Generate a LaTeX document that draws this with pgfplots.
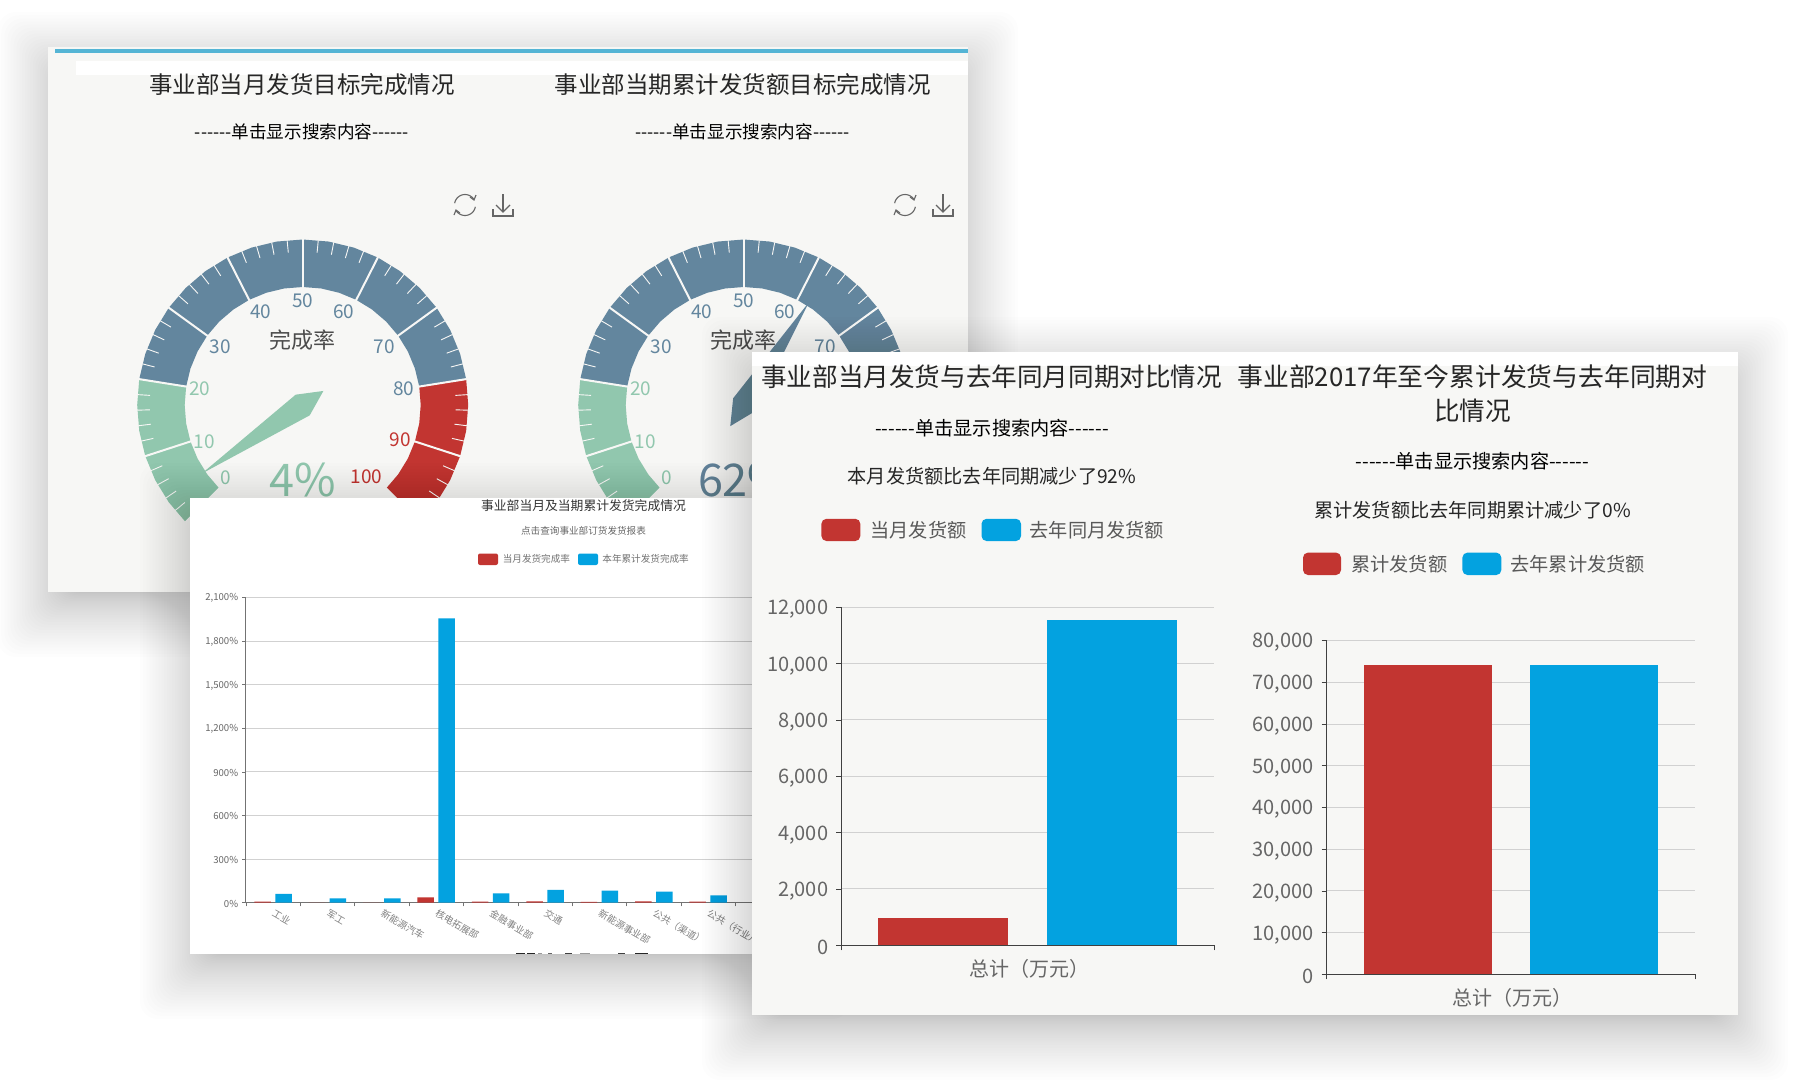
\documentclass[border=0pt]{standalone}
\usepackage{fontspec}
\setmainfont{Noto Sans CJK SC}
\usepackage{pgfplots}
\pgfplotsset{compat=1.18}
\definecolor{pbg}{HTML}{F7F7F5}
\definecolor{gG}{HTML}{91C7AE}
\definecolor{gB}{HTML}{63869E}
\definecolor{gR}{HTML}{C23531}
\definecolor{bR}{HTML}{C23531}
\definecolor{bB}{HTML}{03A2E0}
\definecolor{topb}{HTML}{55B5D5}
\definecolor{tk}{HTML}{666666}
\newcommand\fs[1]{\fontsize{#1}{#1}\selectfont}
\newcommand\dd{-{}-{}-{}-{}-{}-}
% soft shadow in pixel coordinates
\newcommand\softshadow[5]{%
  \foreach \i in {0,...,29}{%
    \pgfmathsetmacro\e{-15+65*((30-\i)/30)^1.5}%
    \fill[black,opacity=.0065,rounded corners=9pt]
      ({#1-\e},{#2+#5-\e}) rectangle ({#3+\e},{#4+#5+\e});
  }}
\newcommand\glabel[4]{%
  \edef\t{\noexpand\node[text=#2,font=\noexpand\fs{9.5}] at (axis cs:#3,#4) {#1};}\t}
% gauge bands, angle / radius in px
\newcommand\gaugebody{%
  \addplot[fill=gG,draw=none,data cs=polar,forget plot] coordinates {
   (225,165.5)(216,165.5)(207,165.5)(198,165.5)(189,165.5)(180,165.5)(171,165.5)
   (171,118)(180,118)(189,118)(198,118)(207,118)(216,118)(225,118)} -- cycle;
  \addplot[fill=gB,draw=none,data cs=polar,forget plot] coordinates {
   (171,165.5)(162,165.5)(153,165.5)(144,165.5)(135,165.5)(126,165.5)(117,165.5)(108,165.5)(99,165.5)(90,165.5)(81,165.5)(72,165.5)(63,165.5)(54,165.5)(45,165.5)(36,165.5)(27,165.5)(18,165.5)(9,165.5)
   (9,118)(18,118)(27,118)(36,118)(45,118)(54,118)(63,118)(72,118)(81,118)(90,118)(99,118)(108,118)(117,118)(126,118)(135,118)(144,118)(153,118)(162,118)(171,118)} -- cycle;
  \addplot[fill=gR,draw=none,data cs=polar,forget plot] coordinates {
   (9,165.5)(0,165.5)(-9,165.5)(-18,165.5)(-27,165.5)(-36,165.5)(-45,165.5)
   (-45,118)(-36,118)(-27,118)(-18,118)(-9,118)(0,118)(9,118)} -- cycle;
  \pgfplotsforeachungrouped \v in {0,2,...,100}{%
    \pgfmathsetmacro\a{225-2.7*\v}%
    \edef\t{\noexpand\addplot[draw=pbg,line width=.45pt,data cs=polar,forget plot] coordinates {(\a,153)(\a,165.5)};}\t}
  \pgfplotsforeachungrouped \v in {0,10,...,100}{%
    \pgfmathsetmacro\a{225-2.7*\v}%
    \edef\t{\noexpand\addplot[draw=pbg,line width=1pt,data cs=polar,forget plot] coordinates {(\a,117)(\a,166)};}\t}
  \glabel{0}{gG}{-76.7}{-73.2}\glabel{10}{gG}{-98.6}{-36.3}\glabel{20}{gG}{-103}{16.7}
  \glabel{30}{gB}{-82.4}{58.2}\glabel{40}{gB}{-42}{92.8}\glabel{50}{gB}{0}{104.3}
  \glabel{60}{gB}{41}{92.8}\glabel{70}{gB}{81.3}{58.2}\glabel{80}{gB}{100.9}{16.7}
  \glabel{90}{gR}{97.4}{-35}\glabel{100}{gR}{64}{-72}
  \node[text=black!70,font=\fs{11}] at (axis cs:0,65) {完成率};
}
\newcommand\icons[2]{%
  \draw[tk,line width=.55pt] plot[domain=35:170,samples=16] ({#1+10.5*cos(\x)},{#2-10.5*sin(\x)});
  \draw[tk,line width=.55pt] plot[domain=215:350,samples=16] ({#1+10.5*cos(\x)},{#2-10.5*sin(\x)});
  \draw[tk,line width=.55pt] ({#1+5},{#2-8})--({#1+9},{#2-5})--({#1+11},{#2-10});
  \draw[tk,line width=.55pt] ({#1-5},{#2+8})--({#1-9},{#2+5})--({#1-11},{#2+10});
  \draw[tk,line width=.55pt] ({#1+38},{#2-11})--({#1+38},{#2+7});
  \draw[tk,line width=.55pt] ({#1+31},{#2})--({#1+38},{#2+7})--({#1+45},{#2});
  \draw[tk,line width=.55pt] ({#1+28},{#2+4})--({#1+28},{#2+11})--({#1+48},{#2+11})--({#1+48},{#2+4});
}
\newcommand\lkey[6]{\fill[#5,rounded corners=#6] (#1,#2) rectangle (#3,#4);}
\pgfplotsset{mybar/.style={scale only axis,axis x line*=bottom,axis y line*=left,
    axis line style={draw=black!75,-},tick style={draw=black!75,line width=.4pt},
    tick align=outside,major tick length=2.5pt,ymajorgrids,grid style={draw=black!18,line width=.5pt},
    /pgf/number format/assume math mode=true,/pgf/number format/1000 sep={,},
    ticklabel style={font=\fs{10},text=tk},yticklabel style={yshift=-1pt,xshift=-.5pt},xmin=0,xmax=1,ymin=0,
    xtick={0,1},xticklabels={},scaled y ticks=false,
    extra x ticks={0.5},extra x tick labels={总计（万元）},
    extra x tick style={major tick length=0pt,grid=none,xticklabel style={yshift=-3.5pt,xshift=.7pt}}}}
\begin{document}
\begin{tikzpicture}[x=0.5pt,y=-0.5pt]
\path[use as bounding box] (0,0) rectangle (1808,1088);
\coordinate (g1) at (302.7,405);
\coordinate (g2) at (743.7,405);
\coordinate (b) at (245.8,902.7);
\coordinate (a1) at (841.2,945.3);
\coordinate (a2) at (1326.5,974.4);
% ---------- panel 1
\softshadow{48}{47}{968}{592}{15}
\fill[pbg] (48,47) rectangle (968,592);
\fill[topb] (55,49) rectangle (968,52.5);
\fill[white] (76,61) rectangle (968,75);
\node[text=black!85,font=\fs{11.75}] at (302,85) {事业部当月发货目标完成情况};
\node[text=black!85,font=\fs{11.75}] at (742.6,85) {事业部当期累计发货额目标完成情况};
\node[text=black,font=\fs{8.8}] at (302,131.5) {\dd 单击显示搜索内容\dd};
\node[text=black,font=\fs{8.8}] at (742.6,131.5) {\dd 单击显示搜索内容\dd};
\icons{465}{205}
\icons{905}{205}
\begin{axis}[at={(g1)},anchor=center,scale only axis,width=200pt,height=200pt,hide axis,
  xmin=-200,xmax=200,ymin=-200,ymax=200,clip=false]
\gaugebody
\addplot[fill=gG,draw=none,data cs=polar,forget plot] coordinates {(214.2,122)(124.2,12.5)(34.2,25)(304.2,12.5)} -- cycle;
\node[text=gG,font=\fs{22.5}] at (axis cs:0,-75) {4\%};
\end{axis}
\begin{axis}[at={(g2)},anchor=center,scale only axis,width=200pt,height=200pt,hide axis,
  xmin=-200,xmax=200,ymin=-200,ymax=200,clip=false]
\gaugebody
\addplot[fill=gB,draw=none,data cs=polar,forget plot] coordinates {(57.6,122)(327.6,12.5)(237.6,25)(147.6,12.5)} -- cycle;
\node[text=gB,font=\fs{22.5}] at (axis cs:0,-75) {62\%};
\end{axis}
% ---------- panel 2
\softshadow{190}{498}{800}{954}{15}
\fill[white] (190,498) rectangle (800,954);
\node[text=black!80,font=\fs{6.4}] at (583.5,506) {事业部当月及当期累计发货完成情况};
\node[text=black!60,font=\fs{4.8}] at (583.5,531) {点击查询事业部订货发货报表};
\lkey{478}{553.5}{498}{565}{bR}{1pt}
\lkey{578}{553.5}{598}{565}{bB}{1pt}
\node[anchor=west,inner sep=0,text=black!55,font=\fs{4.8}] at (502.4,559) {当月发货完成率};
\node[anchor=west,inner sep=0,text=black!55,font=\fs{4.8}] at (602,559) {本年累计发货完成率};
\begin{axis}[at={(b)},anchor=south west,scale only axis,width=272pt,height=152.7pt,
  xmin=0,xmax=10,ymin=0,ymax=2100,axis x line*=bottom,axis y line*=left,
  axis line style={draw=black!55,-},tick style={draw=black!55,line width=.3pt},
  tick align=outside,major tick length=1.8pt,
  ymajorgrids,grid style={draw=black!18,line width=.4pt},
  ytick={0,300,600,900,1200,1500,1800,2100},
  yticklabels={{0\%},{300\%},{600\%},{900\%},{1,200\%},{1,500\%},{1,800\%},{2,100\%}},
  yticklabel style={font=\fs{4.8},text=tk,xshift=1.5pt,yshift=-.4pt},
  xtick={0,1,2,3,4,5,6,7,8,9,10},xticklabels={},
  extra x ticks={0.5,1.5,2.5,3.5,4.5,5.5,6.5,7.5,8.5},
  extra x tick labels={工业,军工,新能源汽车,核电拓展部,金融事业部,交通,新能源事业部,公共（渠道）,公共（行业）},
  extra x tick style={major tick length=0pt,grid=none,
    xticklabel style={font=\fs{4.8},text=black!50,rotate=-30,anchor=north west,xshift=-1pt,yshift=1.5pt}}]
\addplot[ybar,bar width=8.25pt,bar shift=-5.25pt,fill=bR,draw=none] coordinates
  {(0.5,8)(1.5,0)(2.5,0)(3.5,37)(4.5,8)(5.5,10)(6.5,5)(7.5,10)(8.5,8)};
\addplot[ybar,bar width=8.25pt,bar shift=5.25pt,fill=bB,draw=none] coordinates
  {(0.5,60)(1.5,30)(2.5,30)(3.5,1956)(4.5,64)(5.5,89)(6.5,83)(7.5,76)(8.5,50)};
\end{axis}
% tops of a text that the panel's lower edge cuts off
\fill[black!85] (516,952.6) rectangle (525,954);
\fill[black!85] (527,952.6) rectangle (535,954);
\fill[black!40] (538,952.6) rectangle (542,954);
\fill[black!60] (548,952.6) rectangle (552,954);
\fill[black!75] (565,952.6) rectangle (572,954);
\fill[black!40] (580,952.6) rectangle (590,954);
\fill[black!75] (618,952.6) rectangle (625,954);
\fill[black!85] (635,952.6) rectangle (648,954);
% ---------- panel 3
\softshadow{752}{352}{1738}{1015}{15}
\fill[pbg] (752,352) rectangle (1738,1015);
\fill[white] (752,352) rectangle (1738,366);
\node[text=black!85,font=\fs{12.8}] at (991.7,377) {事业部当月发货与去年同月同期对比情况};
\node[text=black!85,font=\fs{12.9}] at (1472.5,377) {事业部2017年至今累计发货与去年同期对};
\node[text=black!85,font=\fs{12.8}] at (1472.5,410.5) {比情况};
\node[text=black,font=\fs{9.6}] at (992,428) {\dd 单击显示搜索内容\dd};
\node[text=black,font=\fs{9.6}] at (1472.5,461) {\dd 单击显示搜索内容\dd};
\node[text=black!85,font=\fs{9.6}] at (992,476) {本月发货额比去年同期减少了92\%};
\node[text=black!85,font=\fs{9.6}] at (1472.5,510) {累计发货额比去年同期累计减少了0\%};
\lkey{821.4}{518.8}{860.3}{541}{bR}{2.5pt}
\lkey{981.5}{518.8}{1021}{541}{bB}{2.5pt}
\node[anchor=west,inner sep=0,text=black!65,font=\fs{9.6}] at (870,530) {当月发货额};
\node[anchor=west,inner sep=0,text=black!65,font=\fs{9.6}] at (1029.3,530) {去年同月发货额};
\lkey{1303}{552.6}{1341}{575}{bR}{2.5pt}
\lkey{1462.4}{552.6}{1501.3}{575}{bB}{2.5pt}
\node[anchor=west,inner sep=0,text=black!65,font=\fs{9.6}] at (1350.8,564) {累计发货额};
\node[anchor=west,inner sep=0,text=black!65,font=\fs{9.6}] at (1510,564) {去年累计发货额};
\begin{axis}[mybar,at={(a1)},anchor=south west,width=186.55pt,height=169pt,ymax=12000,
  ytick={0,2000,4000,6000,8000,10000,12000}]
\addplot[ybar,bar width=65pt,bar shift=-42.25pt,fill=bR,draw=none] coordinates {(0.5,956)};
\addplot[ybar,bar width=65pt,bar shift=42.25pt,fill=bB,draw=none] coordinates {(0.5,11545)};
\end{axis}
\begin{axis}[mybar,at={(a2)},anchor=south west,width=184.25pt,height=166.9pt,ymax=80000,
  ytick={0,10000,20000,30000,40000,50000,60000,70000,80000}]
\addplot[ybar,bar width=64pt,bar shift=-41.6pt,fill=bR,draw=none] coordinates {(0.5,74060)};
\addplot[ybar,bar width=64pt,bar shift=41.6pt,fill=bB,draw=none] coordinates {(0.5,74265)};
\end{axis}
\end{tikzpicture}
\end{document}
